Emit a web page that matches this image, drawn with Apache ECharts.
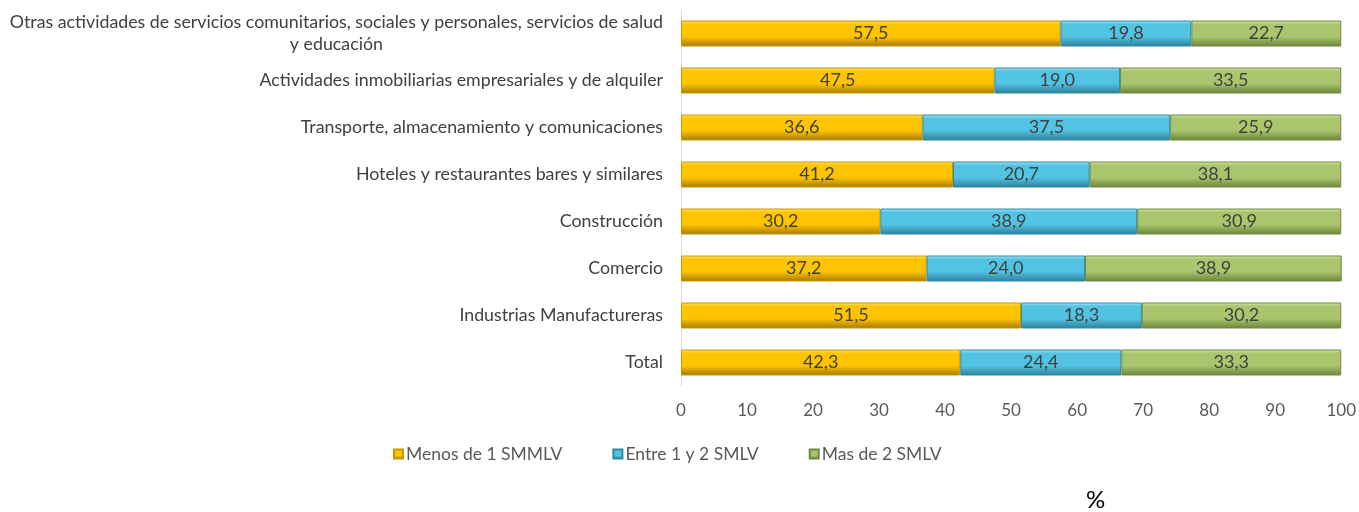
<!DOCTYPE html>
<html>
<head>
<meta charset="utf-8">
<script src="https://cdn.jsdelivr.net/npm/echarts@6/dist/echarts.min.js"></script>
<style>
  html, body { margin: 0; padding: 0; background: #fff; }
  #chart { width: 1359px; height: 512px; }
</style>
</head>
<body>
<div id="chart"></div>
<script>
// categorías de arriba hacia abajo
const categories = [
  'Otras actividades de servicios comunitarios, sociales y personales, servicios de salud\ny educación',
  'Actividades inmobiliarias empresariales y de alquiler',
  'Transporte, almacenamiento y comunicaciones',
  'Hoteles y restaurantes bares y similares',
  'Construcción',
  'Comercio',
  'Industrias Manufactureras',
  'Total'
]
const menos1 = [57.5, 47.5, 36.6, 41.2, 30.2, 37.2, 51.5, 42.3]
const entre1y2 = [19.8, 19.0, 37.5, 20.7, 38.9, 24.0, 18.3, 24.4]
const mas2 = [22.7, 33.5, 25.9, 38.1, 30.9, 38.9, 30.2, 33.3]
const seriesNames = ['Menos de 1 SMMLV', 'Entre 1 y 2 SMLV', 'Mas de 2 SMLV']
const xTicks = [0, 10, 20, 30, 40, 50, 60, 70, 80, 90, 100]

const FONT = 'Lato'

// degradado vertical para imitar el bisel
const grad = (top, mid, bottom) => new echarts.graphic.LinearGradient(0, 0, 0, 1, [
  { offset: 0, color: top },
  { offset: 0.15, color: mid },
  { offset: 0.62, color: mid },
  { offset: 1, color: bottom }
])

const myChart = echarts.init(document.getElementById('chart'))

const mkSeries = (name, data, fill, border) => ({
  name: name,
  type: 'bar',
  stack: 'total',
  data: data,
  barWidth: 26,
  itemStyle: { color: fill, borderColor: border, borderWidth: 1 },
  label: {
    show: true,
    position: 'inside',
    color: '#404040',
    fontFamily: FONT,
    fontSize: 18,
    formatter: p => p.value.toFixed(1).replace('.', ',')
  }
})

const option = {
  animation: false,
  grid: { left: 681, right: 15, top: 10, bottom: 126, containLabel: false },
  legend: {
    data: seriesNames,
    left: 388,
    top: 440,
    itemWidth: 9,
    itemHeight: 9,
    itemGap: 50,
    icon: 'rect',
    textStyle: { color: '#595959', fontFamily: FONT, fontSize: 17.5, padding: [0, 0, 0, -2] }
  },
  xAxis: {
    type: 'value',
    min: 0,
    max: 100,
    interval: 10,
    axisLine: { show: false },
    axisTick: { show: false },
    splitLine: { show: false },
    axisLabel: {
      color: '#595959',
      fontFamily: FONT,
      fontSize: 17,
      margin: 16,
      formatter: v => xTicks.includes(v) ? String(v) : ''
    }
  },
  yAxis: {
    type: 'category',
    data: categories,
    inverse: true,
    axisLine: { show: true, lineStyle: { color: '#D9D9D9' } },
    axisTick: { show: false },
    axisLabel: {
      color: '#404040',
      fontFamily: FONT,
      fontSize: 17.8,
      margin: 18,
      lineHeight: 22,
      formatter: v => v.split('\n').map(s => '{c|' + s + '}').join('\n'),
      rich: { c: { align: 'center', fontFamily: FONT, fontSize: 17.8, color: '#404040', lineHeight: 22 } }
    }
  },
  series: [
    mkSeries(seriesNames[0], menos1, grad('#FFE27A', '#FFC400', '#A57A00'), '#C99A00'),
    mkSeries(seriesNames[1], entre1y2, grad('#A8E8F8', '#52C3E3', '#2E7F98'), '#2F8BA6'),
    mkSeries(seriesNames[2], mas2, grad('#D5E8A6', '#A9C56D', '#6A853C'), '#6E8A40')
  ],
  graphic: [{
    type: 'text',
    left: 1086,
    top: 488,
    style: { text: '%', fontFamily: FONT, fontSize: 24, fill: '#000' }
  }]
}
option && myChart.setOption(option)
</script>
</body>
</html>
